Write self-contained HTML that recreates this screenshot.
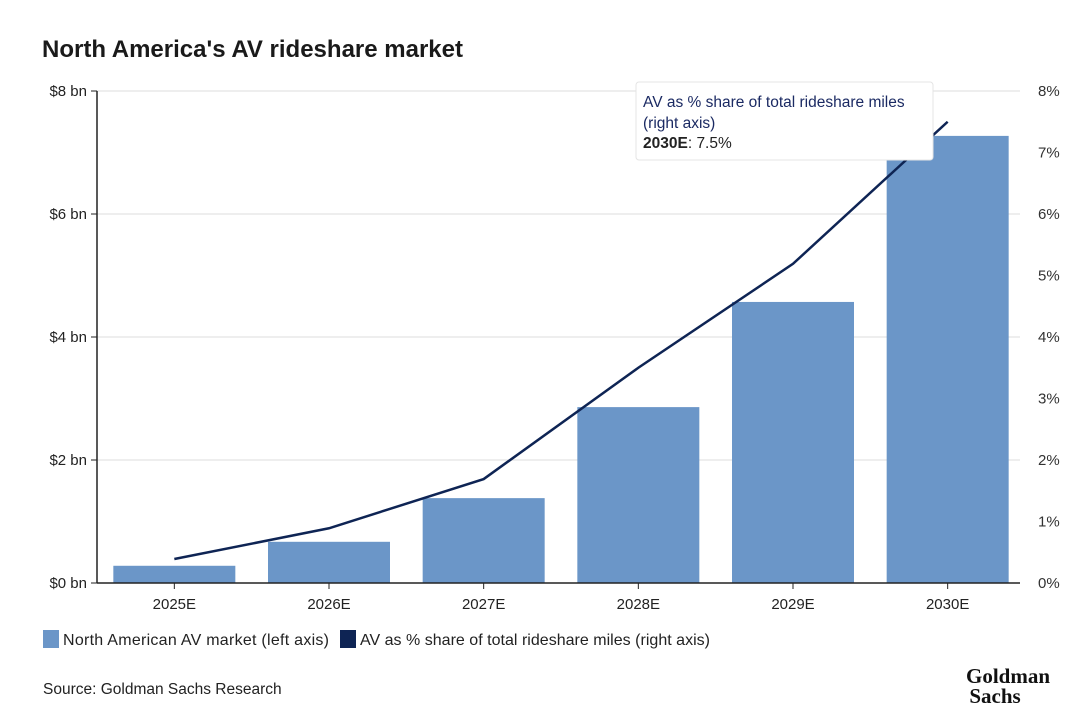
<!DOCTYPE html>
<html><head><meta charset="utf-8"><style>
body{margin:0;background:#fff;width:1080px;height:712px;overflow:hidden;font-family:"Liberation Sans",sans-serif}
</style></head><body>
<svg id="chart" width="1080" height="712" font-family="Liberation Sans, sans-serif">
<text x="42" y="57" font-size="24" font-weight="bold" fill="#1a1a1a">North America's AV rideshare market</text>
<g id="grid"></g><g id="bars"></g><g id="axes"></g><g id="line"></g>
<g>
<rect x="636" y="82" width="297" height="78" rx="3" fill="#fff" stroke="#e4e4e4"/>
<text x="643" y="107" font-size="15.5" fill="#1b2a63">AV as % share of total rideshare miles</text>
<text x="643" y="128" font-size="15.5" fill="#1b2a63">(right axis)</text>
<text x="643" y="148" font-size="15.5" fill="#222"><tspan font-weight="bold">2030E</tspan>: 7.5%</text>
</g>
<g>
<rect x="43" y="630" width="16" height="18" fill="#6b96c8"/>
<text x="63" y="645" font-size="16" fill="#222" textLength="266">North American AV market (left axis)</text>
<rect x="340" y="630" width="16" height="18" fill="#0e2454"/>
<text x="360" y="645" font-size="16" fill="#222" textLength="350">AV as % share of total rideshare miles (right axis)</text>
</g>
<text x="43" y="694" font-size="15.5" fill="#222">Source: Goldman Sachs Research</text>
<text x="1008" y="683" font-size="21" font-weight="bold" font-family="Liberation Serif, serif" text-anchor="middle" fill="#111">Goldman</text>
<text x="995" y="703" font-size="21" font-weight="bold" font-family="Liberation Serif, serif" text-anchor="middle" fill="#111">Sachs</text>
</svg>
<script>
const categories=["2025E","2026E","2027E","2028E","2029E","2030E"];
const marketBn=[0.28,0.67,1.38,2.86,4.57,7.27];
const sharePct=[0.39,0.89,1.69,3.5,5.19,7.5];
const leftTicks=[0,2,4,6,8];
const rightTicks=[0,1,2,3,4,5,6,7,8];
const NS="http://www.w3.org/2000/svg";
const X0=97,X1=1025,XE=1020,Y0=583,Y1=91;
const bw=(X1-X0)/categories.length;
const xc=i=>X0+bw*(i+0.5);
const yL=v=>Y0-(v/8)*(Y0-Y1);
const yR=v=>Y0-(v/8)*(Y0-Y1);
function mk(t,a,p){const e=document.createElementNS(NS,t);for(const k in a)e.setAttribute(k,a[k]);p.appendChild(e);return e;}
const grid=document.getElementById('grid'),bars=document.getElementById('bars'),axes=document.getElementById('axes'),line=document.getElementById('line');
leftTicks.forEach(v=>{
 if(v>0){const g=mk('line',{x1:X0,x2:XE,y1:yL(v),y2:yL(v),stroke:'#dcdcdc'},grid);
 
 }
 mk('line',{x1:X0-6,x2:X0,y1:yL(v),y2:yL(v),stroke:'#222'},axes);
 const t=mk('text',{x:X0-10,y:yL(v)+5,'font-size':15,'text-anchor':'end',fill:'#222'},axes);t.textContent='$'+v+' bn';
 
 
});
rightTicks.forEach(v=>{
 const t=mk('text',{x:1038,y:yR(v)+5,'font-size':15,fill:'#333'},axes);t.textContent=v+'%';
 
 
});
mk('line',{x1:X0,x2:X0,y1:Y1,y2:Y0,stroke:'#222','stroke-width':1.5},axes);
mk('line',{x1:X0,x2:XE,y1:Y0,y2:Y0,stroke:'#222','stroke-width':1.5},axes);
categories.forEach((c,i)=>{
 const b=mk('rect',{x:xc(i)-61,y:yL(marketBn[i]),width:122,height:Y0-yL(marketBn[i]),fill:'#6b96c8'},bars);
 
 
 mk('line',{x1:xc(i),x2:xc(i),y1:Y0,y2:Y0+6,stroke:'#222'},axes);
 const t=mk('text',{x:xc(i),y:Y0+26,'font-size':15,'text-anchor':'middle',fill:'#222'},axes);t.textContent=c;
 
 
});
const p=mk('polyline',{points:sharePct.map((v,i)=>xc(i)+','+yR(v)).join(' '),fill:'none',stroke:'#0e2454','stroke-width':2.5},line);


</script>
</body></html>
